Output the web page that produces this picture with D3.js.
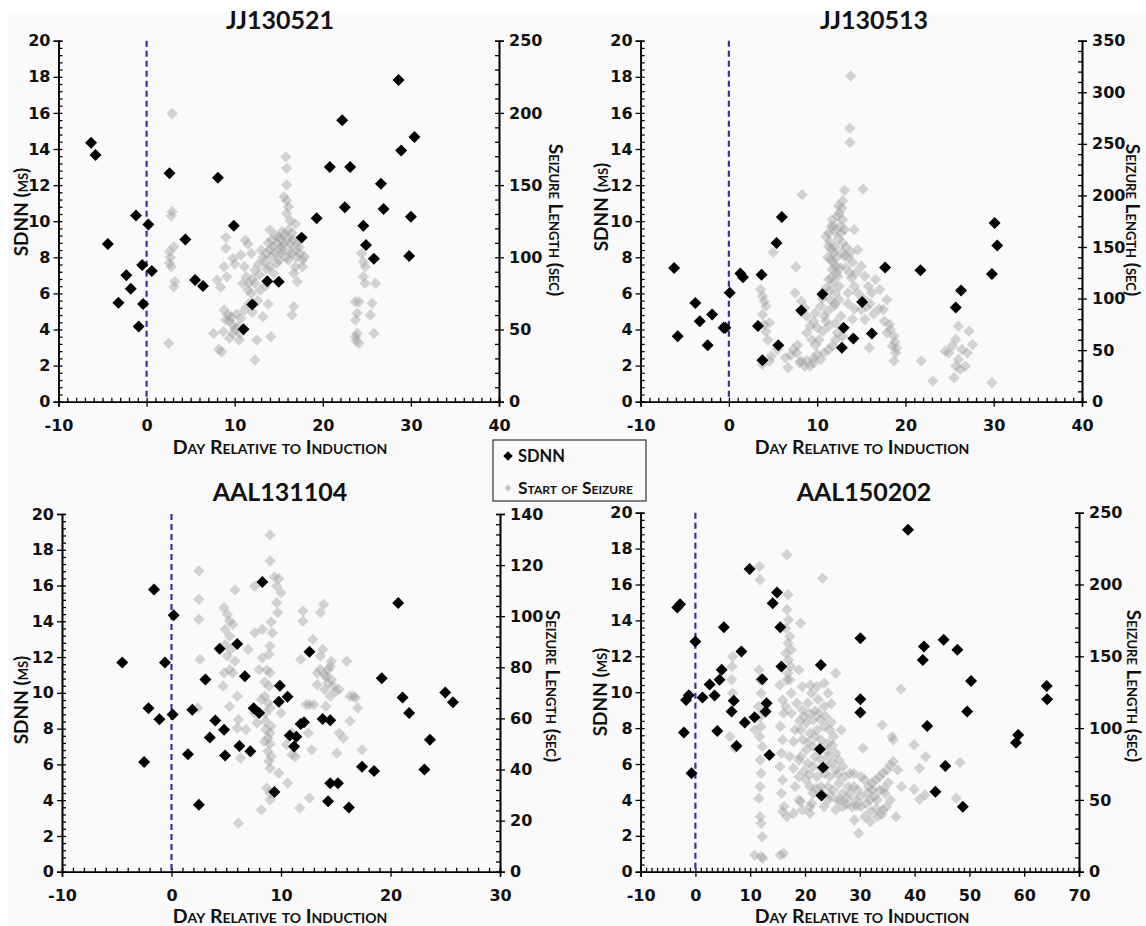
<!DOCTYPE html>
<html>
<head>
<meta charset="utf-8">
<script src="https://cdn.jsdelivr.net/npm/d3@7"></script>
<style>
  body { margin: 0; background: #fff; }
  text { font-family: Lato, "Open Sans", sans-serif; font-weight: bold; fill: #111; }
  .tick text { font-family: "DejaVu Sans", sans-serif; font-size: 16px; font-weight: bold; fill: #111; }
  .sc { font-variant: small-caps; }
</style>
</head>
<body>
<svg id="chart" width="1146" height="926"></svg>
<script>
// ---- data: [day relative to induction, value] ----
var titles = ['JJ130521', 'JJ130513', 'AAL131104', 'AAL150202'];

// SDNN in ms (left axis)
var jj130521Sdnn = [[-6.3,14.35],[-5.8,13.67],[-4.4,8.73],[-2.3,7.0],[-3.2,5.48],[-1.8,6.26],[-1.2,10.32],[-0.5,7.57],[-0.4,5.41],[-0.9,4.16],[0.2,9.82],[0.6,7.24],[2.6,12.65],[4.4,8.99],[5.5,6.74],[6.4,6.41],[8.1,12.41],[9.9,9.75],[11.0,4.01],[12.0,5.39],[13.7,6.67],[15.0,6.65],[17.6,9.09],[19.3,10.16],[20.8,13.0],[22.2,15.59],[22.5,10.77],[23.1,13.0],[24.6,9.75],[24.9,8.68],[25.8,7.92],[26.6,12.08],[26.9,10.67],[28.6,17.82],[28.9,13.91],[30.4,14.66],[30.0,10.25],[29.8,8.07]];
var jj130513Sdnn = [[-6.2,7.41],[-5.8,3.63],[-3.8,5.47],[-3.3,4.46],[-2.4,3.13],[-1.9,4.83],[-0.6,4.1],[-0.4,4.1],[0.1,6.03],[1.3,7.1],[1.6,6.9],[3.7,7.04],[3.3,4.2],[3.8,2.3],[5.4,8.79],[5.6,3.13],[6.0,10.23],[8.2,5.05],[10.6,5.95],[13.0,4.09],[12.8,2.99],[14.1,3.5],[15.1,5.53],[16.2,3.78],[17.7,7.43],[21.7,7.28],[25.7,5.22],[26.3,6.16],[29.8,7.08],[30.1,9.9],[30.4,8.65]];
var aal131104Sdnn = [[-4.5,11.7],[-2.5,6.13],[-2.1,9.14],[-1.6,15.78],[-1.1,8.52],[-0.6,11.7],[0.1,8.79],[0.2,14.34],[1.5,6.56],[1.9,9.05],[2.5,3.74],[3.1,10.75],[3.5,7.51],[4.0,8.45],[4.4,12.47],[4.8,7.94],[4.9,6.5],[6.0,12.73],[6.2,7.03],[6.7,10.93],[7.2,6.73],[7.5,9.14],[8.0,8.88],[8.3,16.2],[9.4,4.45],[9.8,9.5],[9.9,10.4],[10.6,9.78],[10.8,7.61],[11.2,7.0],[11.4,7.55],[11.8,8.26],[12.1,8.36],[12.6,12.3],[13.8,8.54],[14.3,3.94],[14.5,8.47],[14.5,4.95],[15.2,4.95],[16.2,3.59],[17.4,5.87],[18.5,5.63],[19.2,10.82],[20.7,15.03],[21.1,9.74],[21.7,8.88],[23.1,5.72],[23.6,7.38],[25.0,10.02],[25.7,9.48]];
var aal150202Sdnn = [[-3.3,14.72],[-2.8,14.9],[-2.1,7.75],[-1.7,9.57],[-1.2,9.83],[-0.7,5.48],[0.0,12.83],[1.3,9.7],[2.6,10.43],[3.5,9.81],[4.4,10.69],[4.0,7.84],[4.8,11.25],[5.2,13.62],[7.0,9.52],[6.6,8.92],[7.5,7.0],[8.4,12.27],[9.0,8.31],[9.9,16.86],[10.8,8.6],[12.2,10.72],[12.8,8.92],[13.0,9.39],[13.5,6.5],[14.1,14.96],[14.9,15.56],[15.5,13.62],[15.7,11.43],[22.9,11.52],[22.7,6.82],[23.3,5.8],[23.0,4.24],[30.1,13.01],[30.1,9.61],[30.1,8.87],[38.8,19.05],[41.5,11.8],[41.7,12.55],[42.3,8.12],[43.8,4.46],[45.3,12.92],[45.6,5.89],[47.8,12.36],[49.6,8.92],[50.3,10.63],[48.8,3.62],[58.5,7.19],[58.9,7.62],[64.1,10.35],[64.2,9.61]];

// start of seizure: seizure length in seconds (right axis)
var jj130521Seizure = [[2.9,199.6],[2.9,131.6],[2.8,128.6],[3.1,107.3],[2.6,103.9],[2.7,99.9],[2.6,95.8],[2.8,93.5],[3.2,83.1],[3.1,79.6],[2.5,40.4],[7.6,47.3],[8.2,36.2],[8.5,34.6],[8.0,84.2],[8.4,79.2],[9.0,113.8],[9.0,106.2],[8.8,93.5],[9.1,86.6],[9.8,99.2],[10.0,95.3],[10.7,101.6],[8.8,63.5],[9.2,60.0],[9.4,56.1],[9.8,53.1],[10.2,60.7],[9.0,56.5],[9.8,47.3],[9.4,43.9],[10.5,42.7],[8.7,48.5],[11.1,63.5],[10.7,57.7],[11.2,111.9],[11.5,109.2],[11.1,93.5],[11.3,86.6],[10.9,81.9],[11.5,77.3],[11.9,75.0],[12.3,28.9],[12.5,42.7],[13.2,58.9],[13.8,67.6],[14.1,45.0],[12.3,91.2],[12.7,95.3],[13.2,99.9],[13.6,102.7],[14.0,105.5],[14.4,107.3],[14.8,109.6],[15.2,111.9],[15.6,115.4],[15.8,169.6],[15.9,161.6],[15.9,150.0],[15.6,141.9],[15.9,139.2],[16.1,135.0],[15.9,130.4],[16.3,125.3],[16.1,118.9],[16.5,116.6],[16.9,123.0],[17.3,111.9],[17.7,98.1],[16.5,102.7],[16.1,98.1],[16.9,93.5],[17.3,106.9],[16.7,88.9],[16.7,65.8],[16.5,60.0],[17.1,83.1],[17.9,100.4],[17.7,93.5],[15.2,102.7],[14.8,95.8],[14.4,88.9],[14.0,93.5],[15.4,107.3],[15.0,114.2],[14.2,100.4],[11.9,102.7],[12.3,81.9],[12.9,77.3],[13.5,80.1],[14.0,118.9],[16.3,109.6],[16.9,107.3],[17.4,102.7],[17.0,100.4],[24.4,102.7],[24.6,96.9],[24.8,93.5],[24.6,86.6],[24.8,81.9],[23.7,69.2],[24.1,69.2],[23.9,61.2],[23.7,56.5],[23.9,47.3],[23.7,45.0],[24.1,40.4],[25.6,68.1],[25.4,60.0],[25.8,47.3],[26.0,81.9],[23.8,42.2],
  [13.0,105],[13.4,97],[13.8,110],[14.2,112],[14.6,103],[15.0,98],[15.3,105],[15.6,109],[15.8,100],[16.2,104],[16.6,112],[16.0,113],[15.4,118],[14.6,115],[13.6,92],[12.8,88],[12.0,85],[11.6,82],[12.6,70],[10.4,52],[10.0,50],[9.6,59],[10.6,47],[11.6,68],[12.0,62]];
var jj130513Seizure = [[13.8,315.8],[13.7,265.2],[13.7,251.3],[15.2,206.1],[13.1,204.9],[12.9,194.8],[8.3,200.7],[5.0,144.8],[7.6,130.7],[7.5,105.5],[8.2,97.4],[8.6,91.0],[3.6,108.7],[3.8,102.3],[4.0,97.4],[4.2,92.6],[3.8,84.5],[4.6,76.5],[4.0,74.8],[3.8,36.1],[4.6,39.4],[4.8,44.2],[6.4,42.6],[6.7,32.9],[5.5,50.6],[7.3,50.6],[7.7,47.4],[8.2,39.4],[8.6,34.5],[9.2,34.5],[9.6,37.7],[10.4,41.0],[10.8,47.4],[11.3,50.6],[11.7,53.9],[12.1,60.3],[12.3,66.8],[8.8,66.8],[9.2,73.2],[9.6,78.1],[8.8,82.9],[9.8,86.1],[10.4,92.6],[11.3,163.6],[11.7,176.5],[11.9,170.0],[12.3,179.7],[12.5,182.9],[12.9,176.5],[12.7,163.6],[13.1,166.8],[11.3,150.7],[11.5,137.7],[11.7,128.1],[11.3,118.4],[11.9,144.2],[12.1,131.3],[12.3,121.6],[12.5,111.9],[12.1,105.5],[11.5,99.0],[11.9,92.6],[12.5,99.0],[12.9,153.9],[13.1,141.0],[12.7,82.9],[12.1,76.5],[11.3,73.2],[10.8,82.9],[12.9,63.6],[14.2,166.8],[14.6,147.4],[15.0,131.3],[15.4,121.6],[15.8,111.9],[16.2,105.5],[16.6,118.4],[17.1,108.7],[17.5,89.4],[17.9,99.0],[13.7,124.8],[14.2,111.9],[14.6,105.5],[15.0,89.4],[15.4,79.7],[15.9,52.3],[13.5,105.5],[18.3,70.0],[18.7,63.6],[18.5,53.9],[18.9,47.4],[18.7,39.4],[17.9,66.8],[21.8,39.4],[23.1,20.0],[29.8,18.4],[24.5,49.0],[24.9,47.4],[25.3,53.9],[25.7,60.3],[26.0,41.0],[25.7,34.5],[26.2,31.3],[25.5,23.2],[27.0,47.4],[27.2,68.4],[27.6,55.5],[26.8,34.5],[26.0,73.2],[26.4,50.6],
  [11.0,160],[11.4,155],[11.6,148],[11.2,140],[11.8,135],[12.2,140],[12.0,150],[12.4,158],[12.6,170],[12.0,165],[11.6,170],[12.8,188],[12.4,190],[12.2,125],[11.6,120],[11.0,110],[11.4,108],[11.8,115],[12.6,130],[12.8,145],[13.3,150],[13.5,140],[13.2,130],[12.0,95],[11.2,88],[10.6,100],[11.0,78],[10.2,60],[9.8,55],[10.6,68],[8.0,38],[8.8,40],[9.6,42],[10.0,46],[7.0,45],[7.8,55],[9.4,60],[10.0,72],[13.8,145],[14.0,135],[13.9,120],[14.4,125],[15.2,100],[15.6,92],[16.0,95],[16.4,85],[17.0,90],[17.6,78],[18.2,75],[18.8,58],[19.0,52],[4.2,68],[4.4,60],[13.5,95],[14.2,90],[14.0,80]];
var aal131104Seizure = [[9.0,131.8],[9.0,121.6],[9.4,115.4],[9.8,114.7],[9.6,111.8],[10.0,109.2],[9.6,105.3],[9.7,101.4],[9.1,97.7],[9.2,93.5],[9.0,88.3],[8.9,85.0],[8.7,78.9],[9.0,77.8],[8.5,74.2],[8.9,72.6],[8.5,68.7],[8.8,66.1],[9.0,64.1],[8.6,62.1],[8.6,58.9],[9.1,56.9],[8.6,55.6],[9.0,54.3],[8.8,52.3],[8.5,51.0],[9.0,50.1],[8.8,47.1],[9.1,45.1],[8.9,43.2],[9.0,40.5],[8.7,32.7],[9.0,30.7],[9.0,28.1],[8.2,24.2],[2.5,117.7],[2.5,106.6],[2.5,98.8],[2.6,83.1],[2.4,64.1],[4.8,103.3],[5.1,100.7],[5.3,98.1],[5.6,96.8],[4.9,94.8],[5.3,92.2],[4.9,88.9],[5.4,87.0],[5.1,84.4],[5.8,82.4],[5.3,79.1],[4.8,77.8],[5.6,77.8],[4.7,72.6],[5.3,64.7],[6.0,68.7],[6.1,59.5],[6.0,56.2],[6.8,55.6],[6.3,44.5],[6.1,19.0],[5.8,110.3],[7.6,93.5],[8.3,83.7],[8.0,79.1],[7.6,62.1],[8.2,67.4],[10.5,49.7],[11.0,45.8],[12.0,102.0],[12.0,98.1],[12.9,90.9],[13.6,101.4],[13.9,104.6],[12.6,28.8],[11.7,24.9],[11.8,83.1],[12.3,65.4],[12.6,65.4],[13.0,65.4],[13.3,77.8],[13.6,79.1],[14.0,77.2],[14.1,76.3],[14.3,79.1],[14.5,80.4],[14.6,82.4],[13.3,73.2],[14.0,71.3],[14.3,73.9],[14.6,75.2],[14.8,72.6],[15.0,70.6],[15.3,71.3],[14.5,68.7],[14.1,64.7],[13.8,87.0],[13.6,84.4],[16.0,82.4],[16.3,68.7],[16.3,58.9],[16.6,68.7],[16.8,68.0],[17.0,64.1],[15.3,54.3],[15.7,52.3],[15.1,46.4],[12.5,54.3],[17.4,47.7],[9.8,38.6],[10.6,34.7],[7.6,111.8],[8.3,94.8],[7.0,87.0],[7.8,58.2],[10.0,62.1],[11.0,54.3],[12.8,47.7],[11.3,45.1]];
var aal150202Seizure = [[16.7,220.7],[11.7,212.6],[11.8,203.3],[23.2,204.4],[16.9,192.8],[16.7,182.4],[17.0,175.4],[16.5,169.6],[17.2,163.8],[16.9,159.1],[16.5,152.2],[17.0,147.5],[16.9,138.2],[16.7,133.6],[16.5,115.0],[19.2,173.1],[17.5,154.5],[17.4,142.9],[17.2,133.6],[6.8,149.8],[6.7,142.9],[6.6,133.6],[6.8,124.3],[6.3,94.1],[7.2,86.0],[11.6,140.5],[11.8,133.6],[12.0,124.3],[11.5,115.0],[11.8,108.0],[12.0,101.1],[11.7,94.1],[12.2,87.1],[11.8,77.8],[12.0,68.5],[11.8,59.2],[11.6,51.1],[11.8,38.3],[12.0,33.7],[12.2,24.4],[10.8,11.6],[12.3,9.3],[12.0,10.5],[15.4,130.1],[15.9,119.6],[16.1,110.3],[15.5,101.1],[15.9,91.8],[15.7,82.5],[15.4,73.2],[15.9,63.9],[15.7,54.6],[16.2,45.3],[15.9,41.8],[15.5,11.6],[16.1,12.8],[18.9,140.5],[19.5,128.9],[17.5,110.3],[18.2,98.7],[17.9,90.6],[18.9,77.8],[17.5,124.3],[18.5,117.3],[19.5,112.7],[20.5,117.3],[21.2,124.3],[22.2,128.9],[23.5,131.3],[24.2,124.3],[23.5,115.0],[22.5,110.3],[21.5,105.7],[20.2,103.4],[19.2,98.7],[20.9,96.4],[22.2,98.7],[23.5,101.1],[24.5,98.7],[25.2,94.1],[24.2,89.4],[22.9,91.8],[21.5,87.1],[20.2,84.8],[19.2,80.1],[20.5,75.5],[21.5,73.2],[22.9,77.8],[24.2,80.1],[25.6,82.5],[26.2,77.8],[26.9,73.2],[25.6,70.9],[24.5,66.2],[23.5,68.5],[22.2,66.2],[20.9,59.2],[20.2,63.9],[21.5,54.6],[22.9,59.2],[24.2,59.2],[25.2,56.9],[26.2,61.6],[27.2,66.2],[27.9,59.2],[26.9,54.6],[28.2,54.6],[28.9,59.2],[29.6,56.9],[30.2,52.3],[29.2,49.9],[27.6,51.1],[25.9,49.9],[24.2,49.9],[21.2,47.6],[19.2,48.8],[18.9,49.9],[20.9,40.7],[18.2,59.2],[18.9,66.2],[17.9,72.0],[17.2,80.1],[25.6,138.2],[26.6,98.7],[28.2,68.5],[28.9,68.5],[30.2,66.2],[30.6,86.0],[30.9,63.9],[31.6,59.2],[32.2,61.6],[32.9,63.9],[33.6,66.2],[34.2,68.5],[34.9,70.9],[35.6,74.3],[36.1,76.7],[34.6,54.6],[33.6,56.9],[32.6,52.3],[31.9,49.9],[31.2,47.6],[30.2,45.3],[29.0,36.0],[30.9,38.3],[31.9,34.8],[33.2,38.3],[34.2,43.0],[34.9,45.3],[36.6,38.3],[35.6,49.9],[29.8,26.7],[34.1,102.2],[35.9,94.1],[36.1,91.8],[37.5,127.1],[39.9,88.3],[40.9,72.0],[39.9,57.4],[40.9,50.4],[41.9,53.4],[42.0,80.1],[48.3,76.0],[47.6,51.1],[36.9,70.9],[37.6,59.2],[26.9,45.3],[25.6,43.0],[23.5,45.3],[20.9,45.3],[19.5,43.0],[17.9,40.7],[16.7,38.3],[10.8,98.7],
  [19.0,105],[19.8,108],[20.8,110],[21.8,112],[22.8,106],[23.8,108],[24.8,104],[19.6,92],[20.6,90],[21.8,94],[23.0,86],[24.0,84],[25.0,88],[19.8,70],[20.8,68],[21.8,80],[23.0,72],[24.0,73],[25.0,76],[26.0,68],[22.0,58],[23.2,54],[24.6,53],[26.4,50],[27.6,47],[28.6,45],[29.4,46],[31.4,55],[32.4,57],[33.2,50],[34.4,58],[35.2,62],[33.0,44],[34.0,40],[32.0,42],[22.4,120],[21.0,130],[24.8,117]];

// axis extents per panel
var xMaxes = [40, 40, 30, 70];
var rightMaxes = [250, 350, 140, 250];
var rightSteps = [50, 50, 20, 50];

var legendLabels = ['SDNN', 'Start of Seizure'];

// ---- layout ----
var W = 1146, H = 926;
var layout = [
  { l: 58.5, r: 499, t: 40.7, b: 401.7, title: [280, 29], xTitle: [280, 454], yTitle: [21, 212], rTitle: [556, 220] },
  { l: 640.6, r: 1082, t: 40.7, b: 401.7, title: [874, 29], xTitle: [862, 454], yTitle: [601, 207], rTitle: [1133, 220] },
  { l: 62, r: 500, t: 514, b: 871.7, title: [280, 501], xTitle: [280, 923], yTitle: [21, 700], rTitle: [553, 686] },
  { l: 640.6, r: 1079, t: 512.7, b: 871.7, title: [864, 501], xTitle: [862, 923], yTitle: [600, 692], rTitle: [1134, 686] }
];

var sdnnSets = [jj130521Sdnn, jj130513Sdnn, aal131104Sdnn, aal150202Sdnn];
var seizureSets = [jj130521Seizure, jj130513Seizure, aal131104Seizure, aal150202Seizure];

var svg = d3.select('#chart');
svg.append('rect').attr('width', W).attr('height', H).attr('fill', '#fff');
svg.append('rect').attr('x', 8).attr('y', 12).attr('width', W - 8).attr('height', H - 12).attr('fill', '#fafafa');

var diamondBlack = d3.symbol().type(d3.symbolSquare).size(72);
var diamondGray = d3.symbol().type(d3.symbolSquare).size(64);

function styleAxis(g) {
  g.select('.domain').attr('stroke', '#000').attr('stroke-width', 1.6);
  g.selectAll('.tick line').attr('stroke', '#000').attr('stroke-width', 1.3);
}

layout.forEach(function (p, i) {
  var xMax = xMaxes[i], rMax = rightMaxes[i], rStep = rightSteps[i];
  var x = d3.scaleLinear().domain([-10, xMax]).range([p.l, p.r]);
  var y = d3.scaleLinear().domain([0, 20]).range([p.b, p.t]);
  var yr = d3.scaleLinear().domain([0, rMax]).range([p.b, p.t]);
  var g = svg.append('g');

  // minor ticks (inside)
  g.append('g').attr('transform', 'translate(' + p.l + ',0)')
    .call(d3.axisRight(y).tickValues(d3.range(51).map(function (k) { return k * 0.4; })).tickSize(4).tickFormat(''))
    .call(styleAxis);
  g.append('g').attr('transform', 'translate(' + p.r + ',0)')
    .call(d3.axisLeft(yr).tickValues(d3.range(0, rMax / (rStep / 5) + 1).map(function (k) { return k * rStep / 5; })).tickSize(4).tickFormat(''))
    .call(styleAxis);
  g.append('g').attr('transform', 'translate(0,' + p.b + ')')
    .call(d3.axisTop(x).tickValues(d3.range(-10, xMax + 1, 1)).tickSize(4).tickFormat(''))
    .call(styleAxis);

  // major axes
  g.append('g').attr('transform', 'translate(' + p.l + ',0)')
    .call(d3.axisLeft(y).tickValues(d3.range(0, 21, 2)).tickSize(5).tickPadding(3).tickFormat(function (d) { return String(d); }))
    .call(styleAxis);
  g.append('g').attr('transform', 'translate(' + p.r + ',0)')
    .call(d3.axisRight(yr).tickValues(d3.range(0, rMax + 1, rStep)).tickSize(5).tickPadding(5).tickFormat(function (d) { return String(d); }))
    .call(styleAxis);
  g.append('g').attr('transform', 'translate(0,' + p.b + ')')
    .call(d3.axisBottom(x).tickValues(d3.range(-10, xMax + 1, 10)).tickSize(5).tickPadding(13).tickFormat(function (d) { return String(d); }))
    .call(styleAxis);

  // seizure starts (gray)
  g.append('g').selectAll('path').data(seizureSets[i]).enter().append('path')
    .attr('d', diamondGray)
    .attr('transform', function (d) { return 'translate(' + x(d[0]) + ',' + yr(d[1]) + ') rotate(45)'; })
    .attr('fill', '#9c9c9c').attr('fill-opacity', 0.42);

  // induction day
  g.append('line')
    .attr('x1', x(0)).attr('x2', x(0)).attr('y1', y(20)).attr('y2', y(0))
    .attr('stroke', '#3a2fa8').attr('stroke-width', 2.2).attr('stroke-dasharray', '6,4');

  // SDNN (black)
  g.append('g').selectAll('path').data(sdnnSets[i]).enter().append('path')
    .attr('d', diamondBlack)
    .attr('transform', function (d) { return 'translate(' + x(d[0]) + ',' + y(d[1]) + ') rotate(45)'; })
    .attr('fill', '#000');

  // titles
  g.append('text').attr('x', p.title[0]).attr('y', p.title[1])
    .attr('text-anchor', 'middle').style('font-size', '25px').text(titles[i]);
  g.append('text').attr('class', 'sc').attr('x', p.xTitle[0]).attr('y', p.xTitle[1])
    .attr('text-anchor', 'middle').style('font-size', '19.5px').text('Day Relative to Induction');
  g.append('text').attr('class', 'sc')
    .attr('transform', 'translate(' + p.yTitle[0] + ',' + p.yTitle[1] + ') rotate(-90)')
    .attr('text-anchor', 'middle').attr('dy', '0.35em').style('font-size', '19px').text('SDNN (ms)');
  g.append('text').attr('class', 'sc')
    .attr('transform', 'translate(' + p.rTitle[0] + ',' + p.rTitle[1] + ') rotate(90)')
    .attr('text-anchor', 'middle').attr('dy', '0.35em').style('font-size', '19px').text('Seizure Length (sec)');
});

// legend
var lg = svg.append('g');
lg.append('rect').attr('x', 493).attr('y', 440).attr('width', 153).attr('height', 61)
  .attr('fill', '#fafafa').attr('stroke', '#333').attr('stroke-width', 1.2);
lg.append('path').attr('d', d3.symbol().type(d3.symbolSquare).size(45)())
  .attr('transform', 'translate(508,456) rotate(45)').attr('fill', '#000');
lg.append('text').attr('x', 518).attr('y', 462).style('font-size', '16.5px').text(legendLabels[0]);
lg.append('path').attr('d', d3.symbol().type(d3.symbolSquare).size(24)())
  .attr('transform', 'translate(508,488) rotate(45)').attr('fill', '#c4c4c4');
lg.append('text').attr('class', 'sc').attr('x', 518).attr('y', 494).style('font-size', '17.5px').text(legendLabels[1]);
</script>
</body>
</html>
